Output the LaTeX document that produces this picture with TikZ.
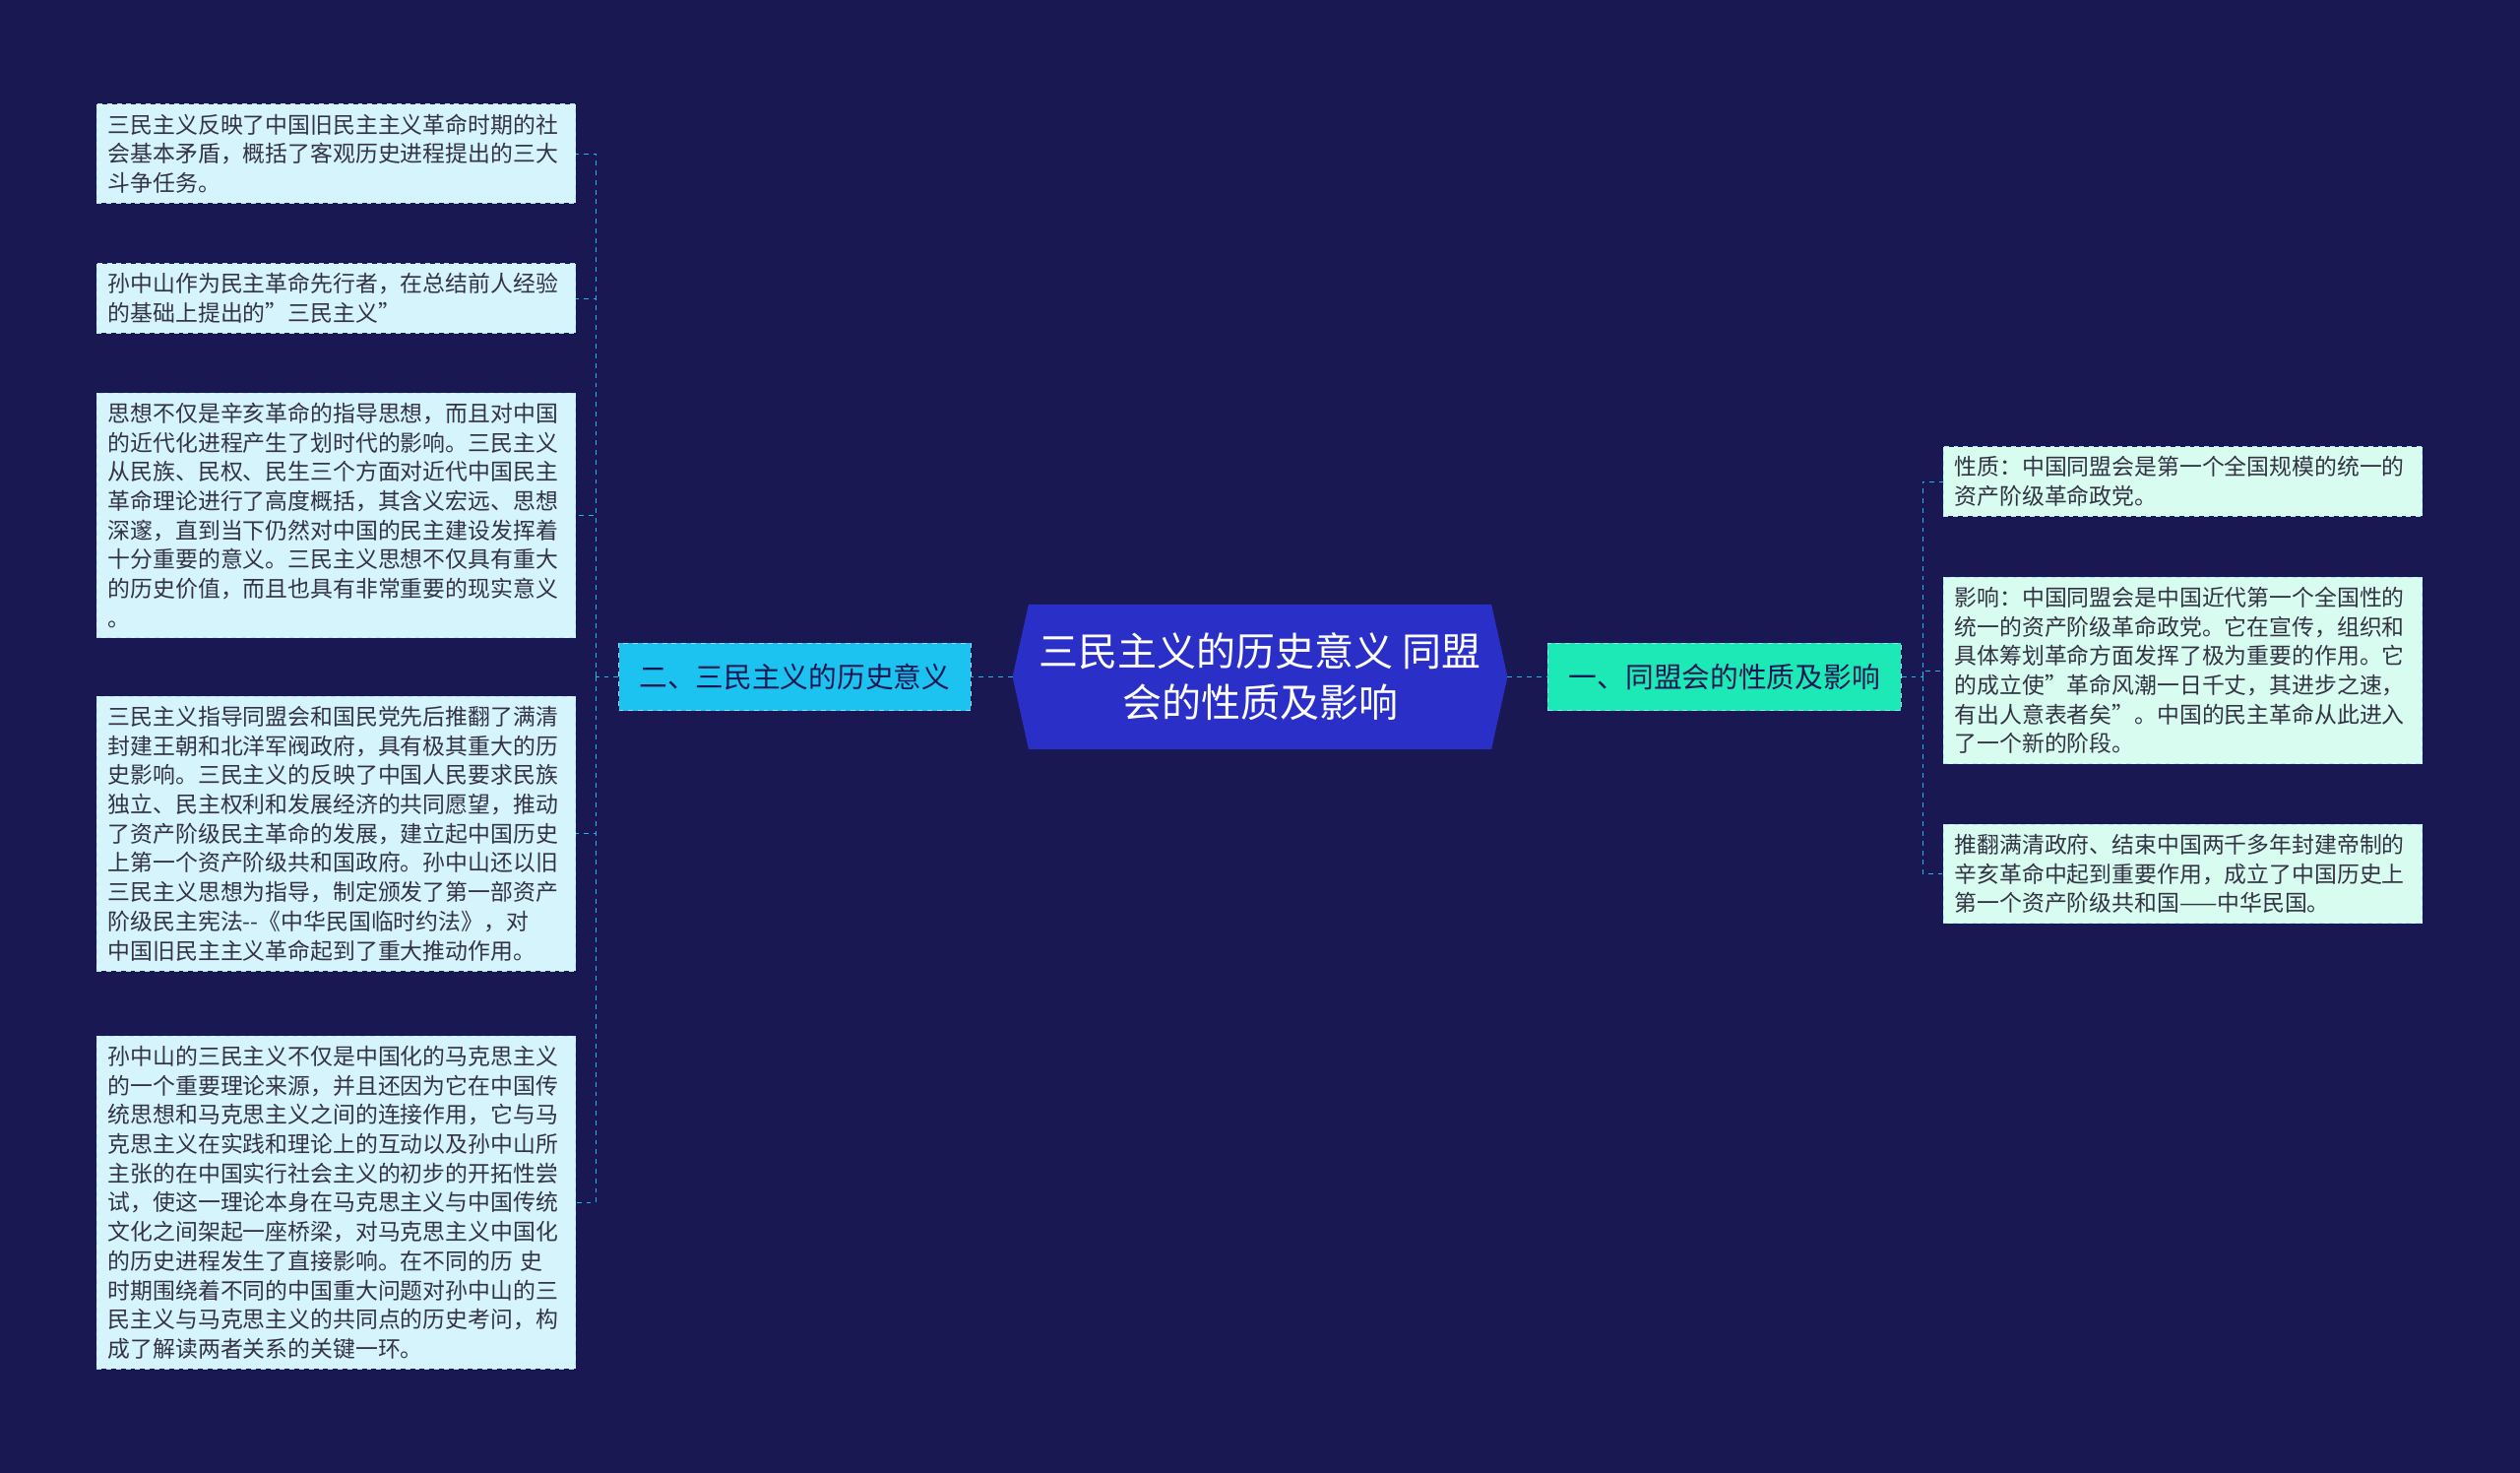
\documentclass[tikz,border=0pt]{standalone}
\usepackage{fontspec}
\setmainfont{Noto Sans CJK SC}
\usetikzlibrary{positioning,calc}
\definecolor{bgnavy}{HTML}{1A1852}
\definecolor{rootblue}{HTML}{2A2FC8}
\definecolor{lbranch}{HTML}{1CC3F0}
\definecolor{rbranch}{HTML}{1DE9B6}
\definecolor{lleaf}{HTML}{D6F4FC}
\definecolor{rleaf}{HTML}{D8FCF0}
\definecolor{linkc}{HTML}{22B8E8}
\definecolor{leaftext}{HTML}{333344}
\tikzset{
  leaf/.style={draw=white!70!cyan, dashed, anchor=west, align=left, text=leaftext,
    inner xsep=7pt, inner ysep=6pt, text width=284pt,
    font=\fontsize{14}{18.2}\selectfont},
  branch/.style={draw=white!60!cyan, dashed, text=bgnavy, minimum height=42pt,
    font=\fontsize{17.6}{20}\selectfont},
  link/.style={draw=linkc, dashed, thin}
}
\begin{document}
\begin{tikzpicture}[x=1pt,y=-1pt]
 \fill[bgnavy] (0,0) rectangle (1568,916);
 \useasboundingbox (0,0) rectangle (1568,916);

 % centre
 \fill[rootblue] (640,376) -- (928,376) -- (938,421) -- (928,466) -- (640,466) -- (630,421) -- cycle;
 \node[text=white, align=center, font=\fontsize{24.5}{32}\selectfont] (root) at (784,421)
   {三民主义的历史意义 同盟\\会的性质及影响};
 \coordinate (rootw) at (630,421);
 \coordinate (roote) at (938,421);

 % branches
 \node[branch, fill=lbranch, minimum width=219pt] (hist) at (494.5,421) {二、三民主义的历史意义};
 \node[branch, fill=rbranch, minimum width=220pt] (tmh) at (1073,421) {一、同盟会的性质及影响};

 % left leaves
 \node[leaf, fill=lleaf] (h1) at (60,95.5) {三民主义反映了中国旧民主主义革命时期的社\\会基本矛盾，概括了客观历史进程提出的三大\\斗争任务。};
 \node[leaf, fill=lleaf] (h2) at (60,185.5) {孙中山作为民主革命先行者，在总结前人经验\\的基础上提出的"三民主义"};
 \node[leaf, fill=lleaf] (h3) at (60,320.5) {思想不仅是辛亥革命的指导思想，而且对中国\\的近代化进程产生了划时代的影响。三民主义\\从民族、民权、民生三个方面对近代中国民主\\革命理论进行了高度概括，其含义宏远、思想\\深邃，直到当下仍然对中国的民主建设发挥着\\十分重要的意义。三民主义思想不仅具有重大\\的历史价值，而且也具有非常重要的现实意义\\。};
 \node[leaf, fill=lleaf] (h4) at (60,518.5) {三民主义指导同盟会和国民党先后推翻了满清\\封建王朝和北洋军阀政府，具有极其重大的历\\史影响。三民主义的反映了中国人民要求民族\\独立、民主权利和发展经济的共同愿望，推动\\了资产阶级民主革命的发展，建立起中国历史\\上第一个资产阶级共和国政府。孙中山还以旧\\三民主义思想为指导，制定颁发了第一部资产\\阶级民主宪法-{}-《中华民国临时约法》，对\\中国旧民主主义革命起到了重大推动作用。};
 \node[leaf, fill=lleaf] (h5) at (60,748) {孙中山的三民主义不仅是中国化的马克思主义\\的一个重要理论来源，并且还因为它在中国传\\统思想和马克思主义之间的连接作用，它与马\\克思主义在实践和理论上的互动以及孙中山所\\主张的在中国实行社会主义的初步的开拓性尝\\试，使这一理论本身在马克思主义与中国传统\\文化之间架起一座桥梁，对马克思主义中国化\\的历史进程发生了直接影响。在不同的历 史\\时期围绕着不同的中国重大问题对孙中山的三\\民主义与马克思主义的共同点的历史考问，构\\成了解读两者关系的关键一环。};

 % right leaves
 \node[leaf, fill=rleaf] (t1) at (1209,299.5) {性质：中国同盟会是第一个全国规模的统一的\\资产阶级革命政党。};
 \node[leaf, fill=rleaf] (t2) at (1209,417) {影响：中国同盟会是中国近代第一个全国性的\\统一的资产阶级革命政党。它在宣传，组织和\\具体筹划革命方面发挥了极为重要的作用。它\\的成立使"革命风潮一日千丈，其进步之速，\\有出人意表者矣"。中国的民主革命从此进入\\了一个新的阶段。};
 \node[leaf, fill=rleaf] (t3) at (1209,543.5) {推翻满清政府、结束中国两千多年封建帝制的\\辛亥革命中起到重要作用，成立了中国历史上\\第一个资产阶级共和国——中华民国。};

 % connectors
 \draw[link] (rootw) -- (hist.east);
 \draw[link] (roote) -- (tmh.west);
 \coordinate (hj) at ($(hist.west)+(-14,0)$);
 \coordinate (tj) at ($(tmh.east)+(13,0)$);
 \draw[link] (hist.west) -- (hj);
 \foreach \n in {h1,h2,h3,h4,h5}
   \draw[link] (hj) |- (\n.east);
 \draw[link] (tmh.east) -- (tj);
 \foreach \n in {t1,t2,t3}
   \draw[link] (tj) |- (\n.west);
\end{tikzpicture}
\end{document}
